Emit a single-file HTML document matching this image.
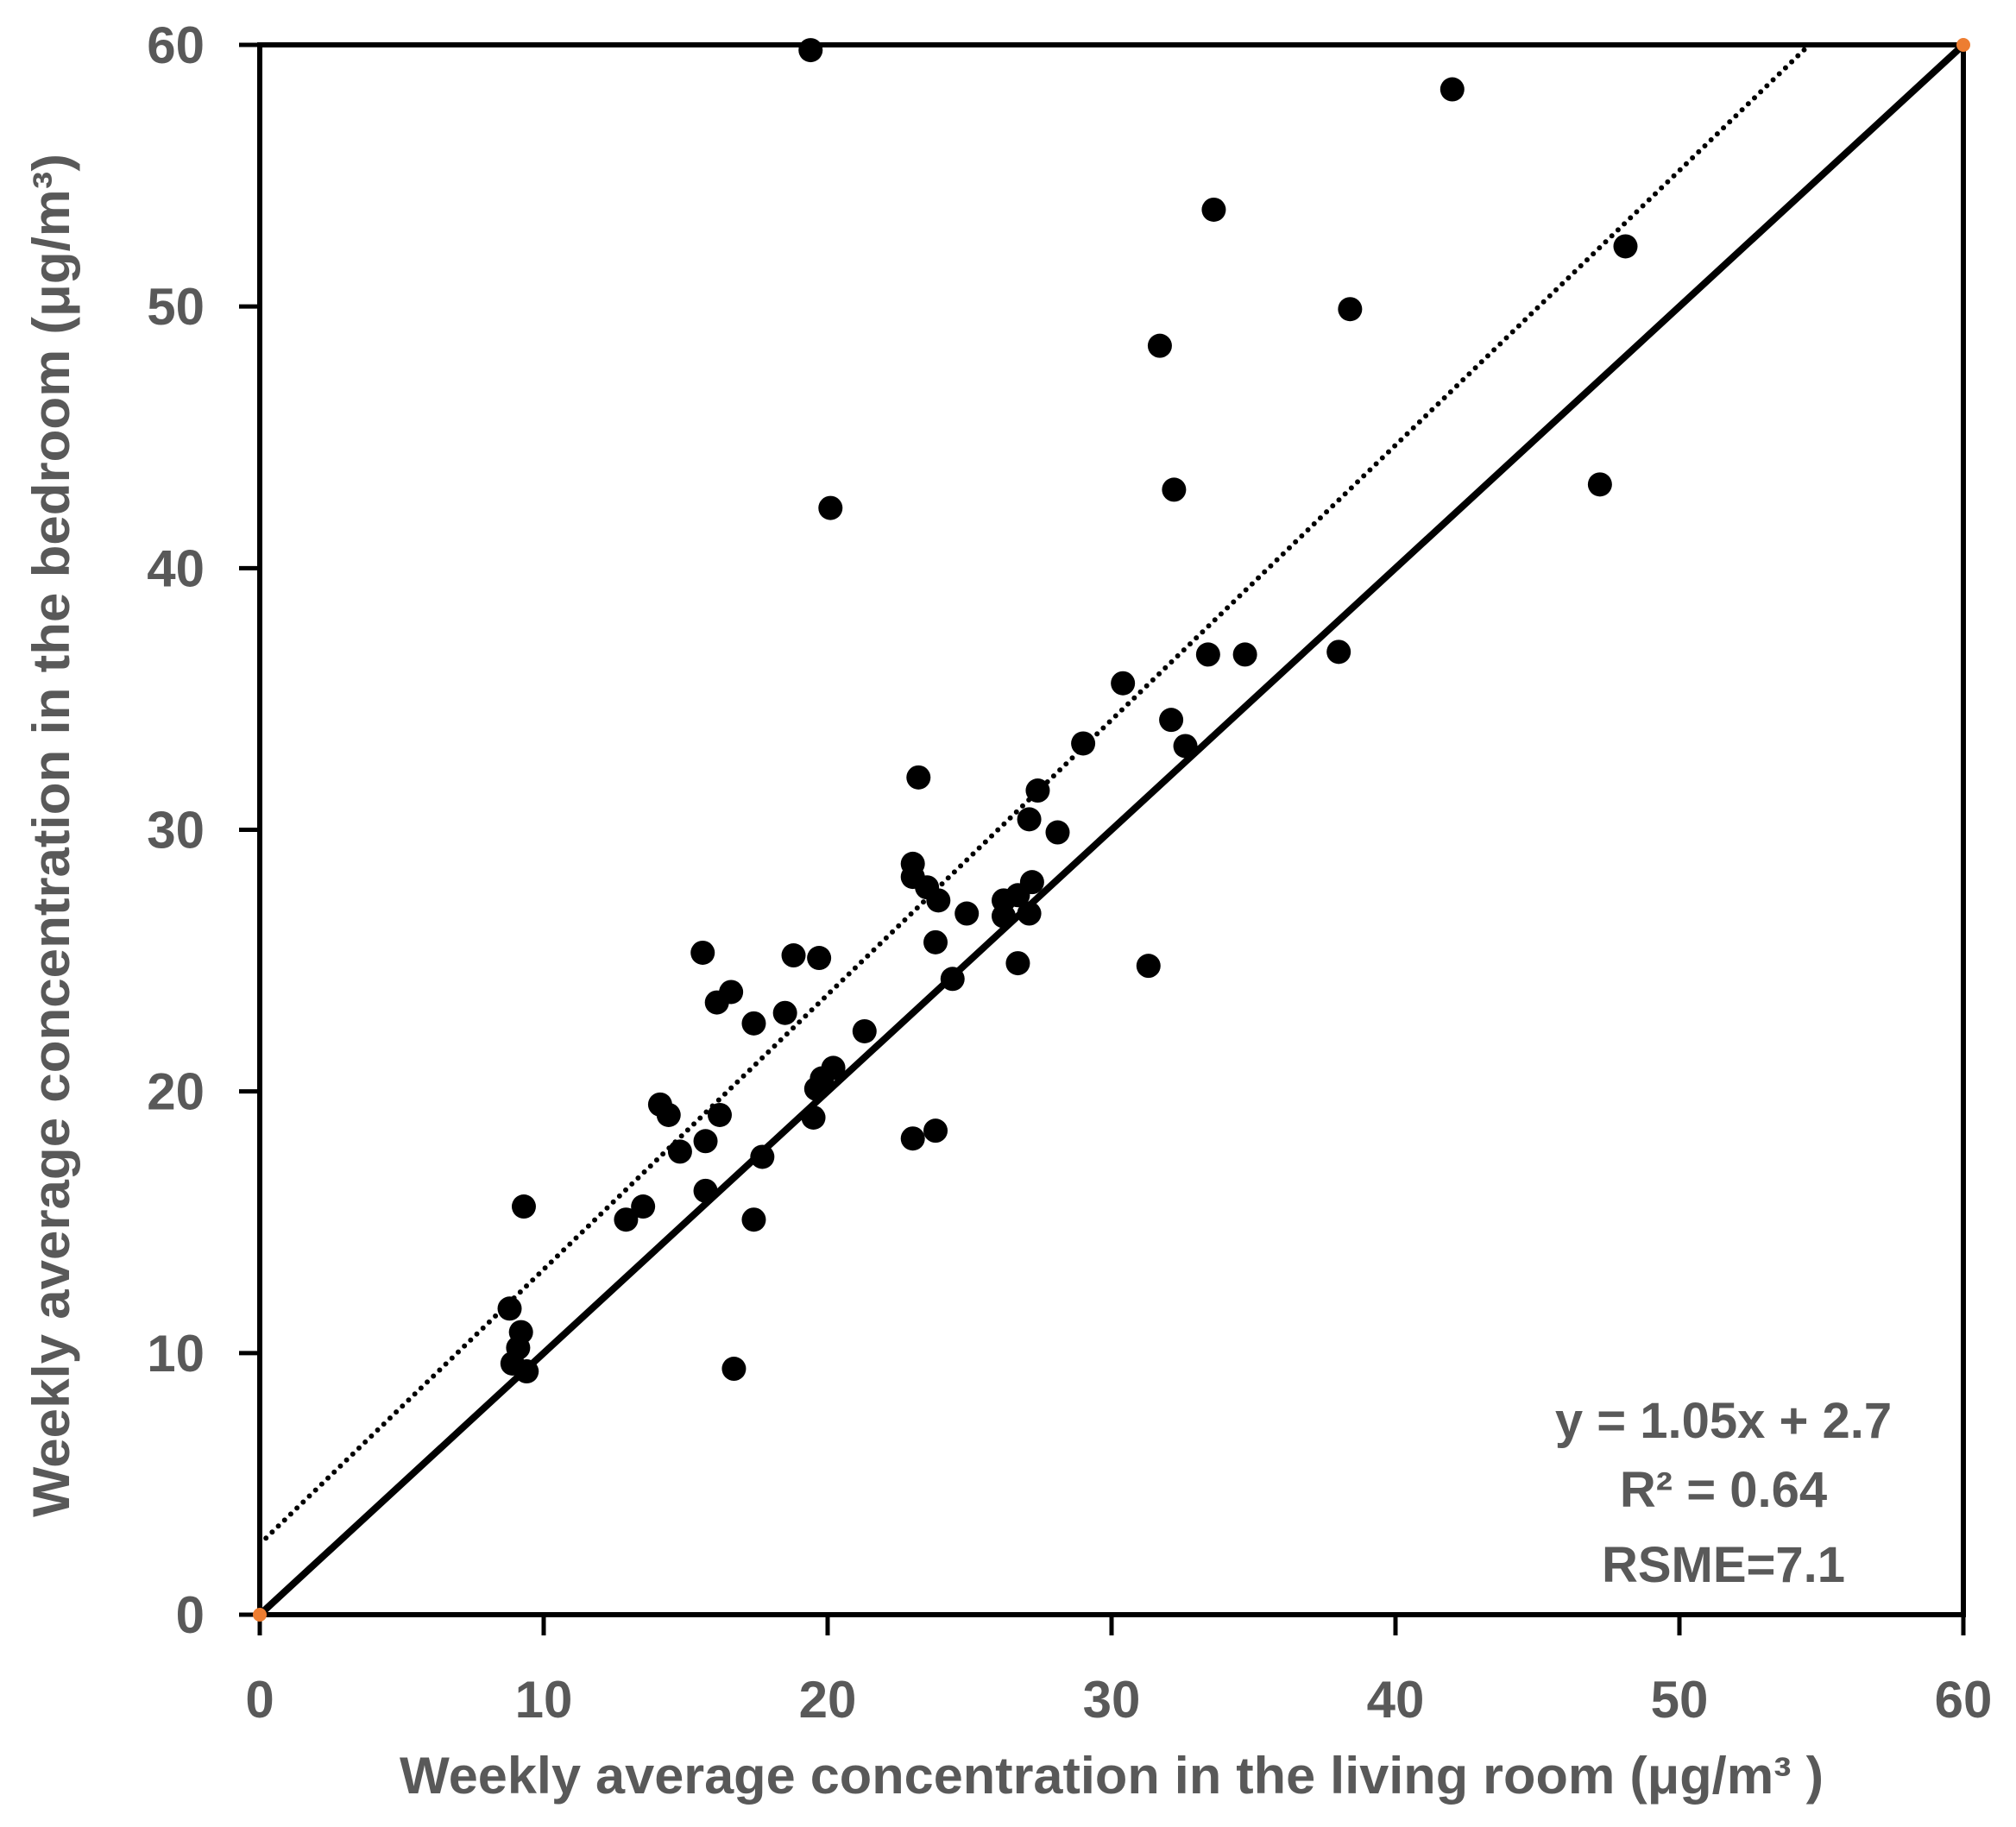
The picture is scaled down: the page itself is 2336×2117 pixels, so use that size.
<!DOCTYPE html>
<html><head><meta charset="utf-8"><style>html,body{margin:0;padding:0;background:#fff}svg{display:block}</style></head>
<body>
<svg id="chart" width="2336" height="2117" viewBox="0 0 2336 2117" xmlns="http://www.w3.org/2000/svg" font-family="'Liberation Sans', sans-serif">
<g id="plot"></g>
</svg>
<script>
const xVals=[19.4,42.0,33.6,48.1,31.7,38.4,32.2,47.2,20.1,33.4,34.7,38.0,30.4,32.1,32.6,29.0,23.2,27.4,27.1,28.1,23.0,23.0,23.5,23.9,27.2,26.2,26.7,26.2,27.1,24.9,23.8,26.7,31.3,24.4,15.6,18.8,19.7,16.6,16.1,17.4,18.5,21.3,20.2,19.8,19.6,19.5,23.0,23.8,14.1,14.4,16.2,15.7,14.8,17.7,15.7,13.5,12.9,17.4,9.3,8.8,9.2,9.1,8.9,9.4,16.7];
const yVals=[59.8,58.3,53.7,52.3,48.5,49.9,43.0,43.2,42.3,36.7,36.7,36.8,35.6,34.2,33.2,33.3,32.0,31.5,30.4,29.9,28.7,28.2,27.8,27.3,28.0,27.3,27.5,26.7,26.8,26.8,25.7,24.9,24.8,24.3,25.3,25.2,25.1,23.8,23.4,22.6,23.0,22.3,20.9,20.5,20.1,19.0,18.2,18.5,19.5,19.1,19.1,18.1,17.7,17.5,16.2,15.6,15.1,15.1,15.6,11.7,10.8,10.2,9.6,9.3,9.4];
const xTicks=[0,10,20,30,40,50,60];
const yTicks=[0,10,20,30,40,50,60];
const fitSlope=1.05, fitIntercept=2.7;

const L=301,R=2275,T=52,B=1871;
const sx=v=>L+(v-0)/(60-0)*(R-L);
const sy=v=>B-(v-0)/(60-0)*(B-T);
const NS='http://www.w3.org/2000/svg';
const g=document.getElementById('plot');
function mk(tag,attrs,parent){const e=document.createElementNS(NS,tag);for(const k in attrs)e.setAttribute(k,attrs[k]);(parent||g).appendChild(e);return e;}

const frame=mk('rect',{x:L,y:T,width:R-L,height:B-T,fill:'none',stroke:'#000','stroke-width':6});



xTicks.forEach(t=>{
  const tk=mk('line',{x1:sx(t),x2:sx(t),y1:B,y2:B+24,stroke:'#000','stroke-width':5});
  
  
  const lb=mk('text',{x:sx(t),y:1990,'text-anchor':'middle','font-size':60,'font-weight':'bold',fill:'#595959'});
  lb.textContent=t;
  
  
});
yTicks.forEach(t=>{
  const tk=mk('line',{x1:L-24,x2:L,y1:sy(t),y2:sy(t),stroke:'#000','stroke-width':5});
  
  
  const lb=mk('text',{x:237,y:sy(t)+21,'text-anchor':'end','font-size':60,'font-weight':'bold',fill:'#595959'});
  lb.textContent=t;
  
  
});

const one=mk('line',{x1:sx(0),y1:sy(0),x2:sx(60),y2:sy(60),stroke:'#000','stroke-width':8});



const xEnd=(60-fitIntercept)/fitSlope;
const fit=mk('line',{x1:sx(0),y1:sy(fitIntercept),x2:sx(xEnd),y2:sy(60),stroke:'#000','stroke-width':6,'stroke-dasharray':'0 10','stroke-linecap':'round'});



[[0,0],[60,60]].forEach(p=>{
  const c=mk('circle',{cx:sx(p[0]),cy:sy(p[1]),r:8,fill:'#ED7D31'});
  
  
});

xVals.forEach((x,i)=>{
  const c=mk('circle',{cx:sx(x),cy:sy(yVals[i]),r:14,fill:'#000'});
  
  
});

[['y = 1.05x + 2.7',1666,'equation-label'],['R² = 0.64',1746,'r-squared-label'],['RSME=7.1',1833,'rmse-label']].forEach(a=>{
  const t=mk('text',{x:1997,y:a[1],'text-anchor':'middle','font-size':58,'font-weight':'bold',fill:'#595959'});
  t.textContent=a[0];
  
  
});

const xt=mk('text',{x:1288,y:2078,'text-anchor':'middle','font-size':60,'font-weight':'bold',fill:'#595959',textLength:1650,lengthAdjust:'spacingAndGlyphs'});
xt.textContent='Weekly average concentration in the living room (μg/m³ )';


const yt=mk('text',{x:0,y:0,'text-anchor':'middle','font-size':60,'font-weight':'bold',fill:'#595959',textLength:1580,lengthAdjust:'spacingAndGlyphs',transform:'translate(80,968) rotate(-90)'});
yt.textContent='Weekly average concentration in the bedroom (μg/m³)';


</script>
</body></html>
